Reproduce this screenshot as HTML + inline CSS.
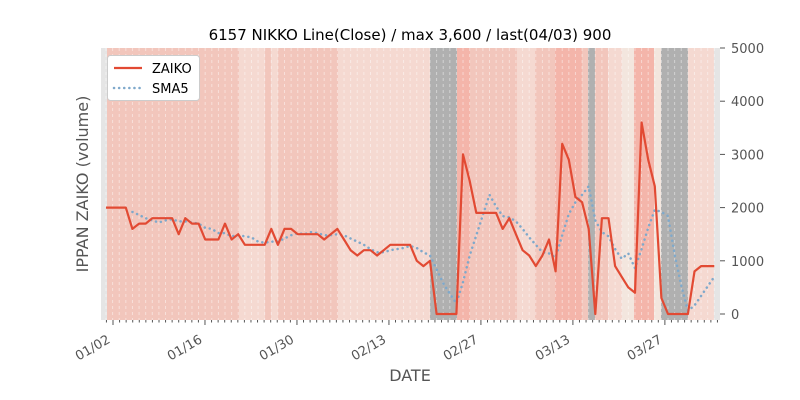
<!DOCTYPE html>
<html><head><meta charset="utf-8"><style>
body{margin:0;background:#fff;}
svg{display:block;font-family:"DejaVu Sans","Liberation Sans",sans-serif;}
</style></head><body>
<svg id="s" width="800" height="400" viewBox="0 0 800 400">
<g id="bands"></g>
<g id="grid"></g>
<polyline id="sma" fill="none" stroke="#7fa9cb" stroke-width="2.5" stroke-dasharray="0.1 5" stroke-linecap="round"/>
<polyline id="line" fill="none" stroke="#e24a33" stroke-width="2.2" stroke-linejoin="round"/>
<text x="410" y="40" font-size="15" text-anchor="middle" fill="#000">6157 NIKKO Line(Close) / max 3,600 / last(04/03) 900</text>
<g id="yt" font-size="13" fill="#555"></g>
<g id="xt" font-size="13" fill="#555"></g>
<text transform="translate(88,184) rotate(-90)" font-size="16" fill="#555" text-anchor="middle">IPPAN ZAIKO (volume)</text>
<text x="410" y="381" font-size="16" fill="#555" text-anchor="middle">DATE</text>
<rect x="107.5" y="55.5" width="92" height="45" rx="3" fill="#fff" stroke="#ccc"/>
<line x1="114" y1="68" x2="142" y2="68" stroke="#e24a33" stroke-width="2.2"/>
<line x1="114" y1="88" x2="142" y2="88" stroke="#7fa9cb" stroke-width="2.5" stroke-dasharray="0.1 5" stroke-linecap="round"/>
<text x="152" y="73" font-size="13" fill="#000">ZAIKO</text>
<text x="152" y="93" font-size="13" fill="#000">SMA5</text>
</svg>
<script>
var NS="http://www.w3.org/2000/svg";
function el(t,a,p){var e=document.createElementNS(NS,t);for(var k in a)e.setAttribute(k,a[k]);document.getElementById(p).appendChild(e);return e;}
var M="#f2c6bc",L="#f5d9d1",S="#f4b5aa",V="#f3e6de",G="#b0b0b0",E="#e5e5e5";
var bands=[[101,107,E],[107,239,M],[239,265,L],[265,271,M],[271,278,L],[278,338,M],[338,430,L],[430,457,G],[457,470,S],[470,517,M],[517,535,L],[535,555,M],[555,582,S],[582,588,M],[588,595,G],[595,608,M],[608,622,L],[622,634,V],[634,654,S],[654,661,V],[661,688,G],[688,714,L],[714,720,E]];
bands.forEach(function(b){el("rect",{x:b[0],y:48,width:b[1]-b[0],height:272,fill:b[2]},"bands");});
var v=[2000,2000,2000,2000,1600,1700,1700,1800,1800,1800,1800,1500,1800,1700,1700,1400,1400,1400,1700,1400,1500,1300,1300,1300,1300,1600,1300,1600,1600,1500,1500,1500,1500,1400,1500,1600,1400,1200,1100,1200,1200,1100,1200,1300,1300,1300,1300,1000,900,1000,0,0,0,0,3000,2500,1900,1900,1900,1900,1600,1800,1500,1200,1100,900,1100,1400,800,3200,2900,2200,2100,1600,0,1800,1800,900,700,500,400,3600,2900,2400,300,0,0,0,0,800,900,900,900];
var x0=106,dx=(714.3-106)/92;
function X(i){return x0+i*dx;} function Y(val){return 314-val*0.0532;}
for(var i=0;i<v.length;i++){el("line",{x1:X(i),y1:48,x2:X(i),y2:320,stroke:"#fff","stroke-opacity":"0.45","stroke-dasharray":"3 3","stroke-width":"1"},"grid");}
var p="",q="";
for(var i=0;i<v.length;i++){p+=X(i).toFixed(1)+","+Y(v[i]).toFixed(1)+" ";
 if(i>=4){var s=0;for(var j=i-4;j<=i;j++)s+=v[j];q+=X(i).toFixed(1)+","+Y(s/5).toFixed(1)+" ";}}
document.getElementById("line").setAttribute("points",p);
document.getElementById("sma").setAttribute("points",q);
for(var k=0;k<=5;k++){var y=Y(k*1000);el("line",{x1:720,y1:y,x2:725,y2:y,stroke:"#555"},"yt");var t=el("text",{x:731,y:y+5},"yt");t.textContent=String(k*1000);}
for(var d=-1;d<=92;d++){var x=113+6.57*d;if(x<101||x>720)continue;var maj=(d%14==0);el("line",{x1:x,y1:320,x2:x,y2:maj?325:322.5,stroke:"#555"},"xt");}
var labs=["01/02","01/16","01/30","02/13","02/27","03/13","03/27"];
labs.forEach(function(l,i){var x=113+6.57*14*i;var t=el("text",{transform:"translate("+(x-2)+",342) rotate(-30)","text-anchor":"end"},"xt");t.textContent=l;});
</script>
</body></html>
